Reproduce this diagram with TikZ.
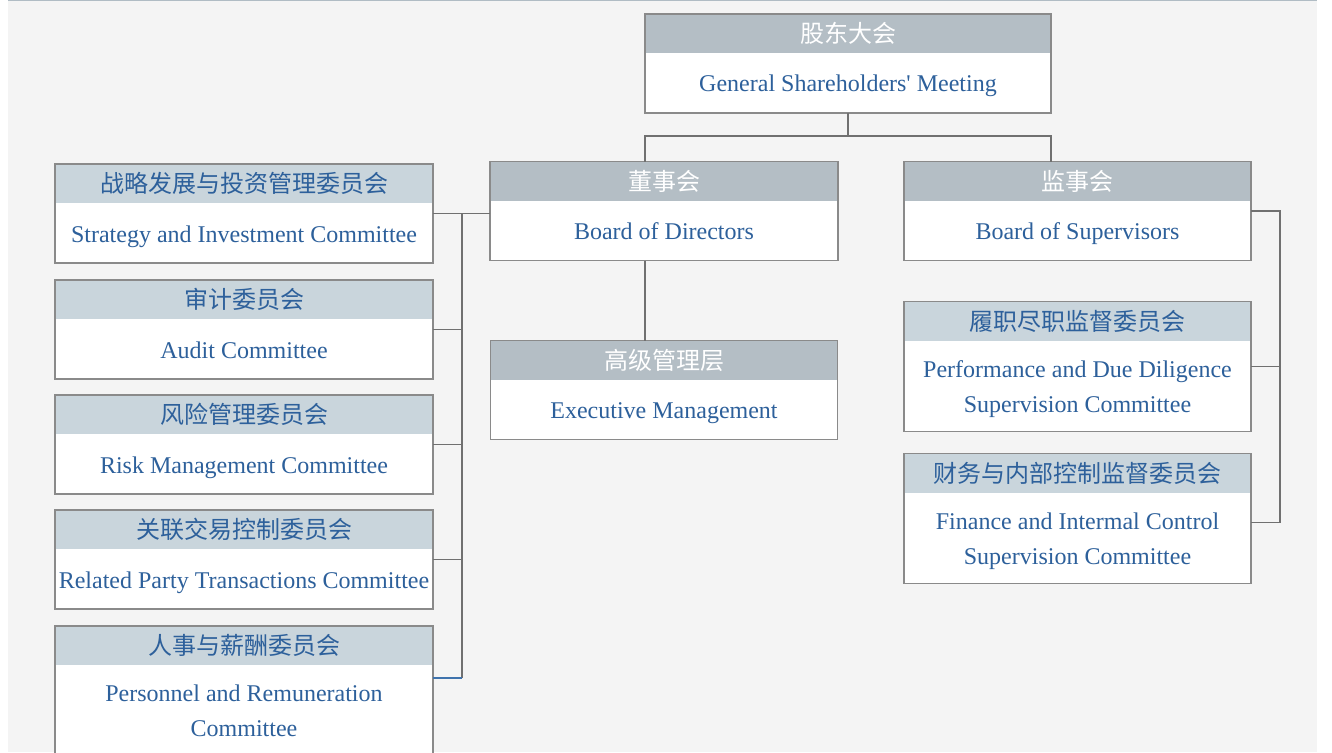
\documentclass[tikz,border=0pt]{standalone}
\usepackage{fontspec}
\usepackage{xcolor}
\usepackage{tikz}
\usetikzlibrary{positioning,fit}

\setmainfont{Liberation Serif}
\newfontfamily\cjk{Noto Sans CJK SC}

\definecolor{pagebg}{HTML}{F4F4F4}
\definecolor{topline}{HTML}{B0BCC4}
\definecolor{darkhead}{HTML}{B4BEC5}
\definecolor{lighthead}{HTML}{C9D5DC}
\definecolor{txtblue}{HTML}{2D609B}
\definecolor{edge}{HTML}{8A8A8A}
\definecolor{wire}{HTML}{707070}
\definecolor{hilite}{HTML}{3F73AD}

\tikzset{
  head/.style={minimum width=#1, minimum height=39pt, inner sep=0pt, outer sep=0pt,
    font=\cjk\fontsize{24}{30}\selectfont},
  boss/.style={fill=darkhead, text=white},
  cmte/.style={fill=lighthead, text=txtblue},
  body/.style={minimum width=#1, minimum height=60pt, inner sep=0pt, outer sep=0pt,
    fill=white, text=txtblue, align=center, font=\fontsize{24}{35}\selectfont,
    text height=24pt, text depth=6pt},
  % two-line bodies (box is measured from the last baseline)
  tall/.style={minimum height=91pt, text height=56pt, text depth=4pt},
  frame/.style={draw=edge, line width=1.2pt, inner sep=0pt, outer sep=0pt},
  link/.style={draw=wire, line width=1.2pt},
}

\begin{document}
\begin{tikzpicture}[x=1pt,y=-1pt]
   \useasboundingbox (0,0) rectangle (1332,752);
   \fill[pagebg] (8,0) rectangle (1317,752);
   \fill[topline] (8,0) rectangle (1317,1.5);

   % top level
   \node[head=406pt, boss] (gsmh) at (848,33.5) {股东大会};
   \node[body=406pt] (gsmb) [below=0pt of gsmh] {General Shareholders\textquotesingle\ Meeting};
   \node[frame, fit=(gsmh)(gsmb)] (gsm) {};

   % boards
   \node[head=348pt, boss] (bodh) at (664,181) {董事会};
   \node[body=348pt] (bodb) [below=0pt of bodh] {Board of Directors};
   \node[frame, fit=(bodh)(bodb)] (bod) {};

   \node[head=347pt, boss] (bosh) at (1077.5,181) {监事会};
   \node[body=347pt] (bosb) [below=0pt of bosh] {Board of Supervisors};
   \node[frame, fit=(bosh)(bosb)] (bos) {};

   \node[head=347pt, boss] (exeh) [below=80pt of bodb] {高级管理层};
   \node[body=347pt] (exeb) [below=0pt of exeh] {Executive Management};
   \node[frame, fit=(exeh)(exeb)] (exe) {};

   % board committees
   \node[head=378pt, cmte] (strath) at (244,183.5) {战略发展与投资管理委员会};
   \node[body=378pt] (stratb) [below=0pt of strath] {Strategy and Investment Committee};
   \node[frame, fit=(strath)(stratb)] (strat) {};

   \node[head=378pt, cmte] (audith) [below=17pt of stratb] {审计委员会};
   \node[body=378pt] (auditb) [below=0pt of audith] {Audit Committee};
   \node[frame, fit=(audith)(auditb)] (audit) {};

   \node[head=378pt, cmte] (riskh) [below=16pt of auditb] {风险管理委员会};
   \node[body=378pt] (riskb) [below=0pt of riskh] {Risk Management Committee};
   \node[frame, fit=(riskh)(riskb)] (risk) {};

   \node[head=378pt, cmte] (rpth) [below=16pt of riskb] {关联交易控制委员会};
   \node[body=378pt] (rptb) [below=0pt of rpth] {Related Party Transactions Committee};
   \node[frame, fit=(rpth)(rptb)] (rpt) {};

   \node[head=378pt, cmte] (persh) [below=17pt of rptb] {人事与薪酬委员会};
   \node[body=378pt, tall] (persb) [below=0pt of persh] {Personnel and Remuneration\\Committee};
   \node[frame, fit=(persh)(persb)] (pers) {};

   % supervisory committees
   \node[head=347pt, cmte] (perfh) [below=41pt of bosb] {履职尽职监督委员会};
   \node[body=347pt, tall] (perfb) [below=0pt of perfh] {Performance and Due Diligence\\Supervision Committee};
   \node[frame, fit=(perfh)(perfb)] (perf) {};

   \node[head=347pt, cmte] (finh) [below=22pt of perfb] {财务与内部控制监督委员会};
   \node[body=347pt, tall] (finb) [below=0pt of finh] {Finance and Intermal Control\\Supervision Committee};
   \node[frame, fit=(finh)(finb)] (fin) {};

   % connectors
   \coordinate (bus) at ([yshift=-23pt]gsm.south);
   \draw[link] (gsm.south) -- (bus);
   \draw[link] (bod.north -| gsm.west) |- (bus) -| (bos.north -| gsm.east);
   \draw[link] (bod.south -| gsm.west) -- (exe.north -| gsm.west);

   \coordinate (trunk) at ([xshift=29pt]strat.east);
   \coordinate (perstap) at ([yshift=-52pt]pers.north east);
   \draw[link] (strat.east -| bod.west) -- (strat.east);
   \draw[link] (trunk) -- (trunk |- perstap);
   \foreach \c in {audit,risk,rpt}
      \draw[link] (trunk |- \c.east) -- (\c.east);
   \draw[link, draw=hilite] (trunk |- perstap) -- (perstap);

   \coordinate (spine) at ([xshift=29pt]bos.east);
   \coordinate (fintap) at ([yshift=-69pt]fin.north east);
   \draw[link] (bos.east) -- (spine) |- (fintap);
   \draw[link] (spine |- perf.east) -- (perf.east);
\end{tikzpicture}
\end{document}
